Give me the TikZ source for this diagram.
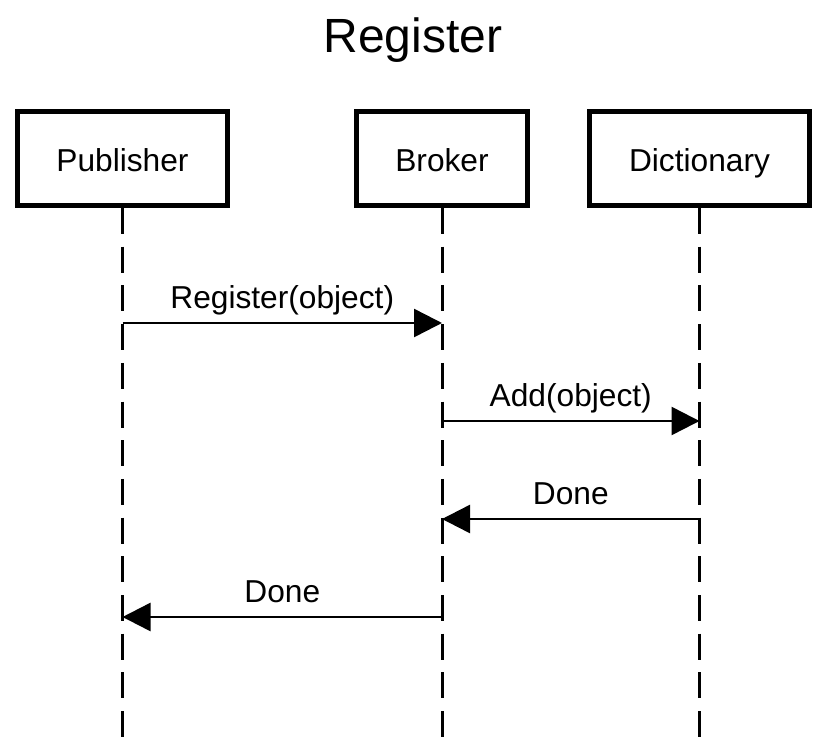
\documentclass[tikz,border=0pt]{standalone}
\usepackage{fontspec}
\setmainfont{Liberation Sans}
\usetikzlibrary{arrows.meta}
\begin{document}
\begin{tikzpicture}[x=1pt,y=-1pt,
  actor/.style={draw=black,line width=5pt,minimum height=94pt,inner sep=0pt,
    text height=25pt,text depth=0pt,
    font=\fontsize{31.7}{38}\selectfont},
  lifeline/.style={line width=3pt,dash pattern=on 26pt off 12.7pt},
  msg/.style={line width=2.5pt,-{Triangle[length=28pt,width=28pt]}},
  lbl/.style={anchor=base,yshift=15pt,font=\fontsize{31.7}{38}\selectfont,inner sep=0pt}]
\useasboundingbox (0,0) rectangle (826,741);
\node[font=\fontsize{48}{58}\selectfont,anchor=base,inner sep=0pt] (title) at (413,53) {Register};
\node[actor,minimum width=210pt] (pub) at (122.5,158.5) {Publisher};
\node[actor,minimum width=171pt] (brk) at (442,158.5) {Broker};
\node[actor,minimum width=220pt] (dic) at (699.5,158.5) {Dictionary};
\coordinate (pubend) at (122.5,741);
\coordinate (brkend) at (442,741);
\coordinate (dicend) at (699.5,741);
\draw[lifeline] (pub.south) -- (pubend);
\draw[lifeline] (brk.south) -- (brkend);
\draw[lifeline] (dic.south) -- (dicend);
\coordinate (p1) at (122.5,323); \coordinate (b1) at (442,323);
\coordinate (b2) at (442,421); \coordinate (d2) at (699.5,421);
\coordinate (d3) at (699.5,519); \coordinate (b3) at (442,519);
\coordinate (b4) at (442,617); \coordinate (p4) at (122.5,617);
\draw[msg] (p1) -- node[lbl] {Register(object)} (b1);
\draw[msg] (b2) -- node[lbl] {Add(object)} (d2);
\draw[msg] (d3) -- node[lbl] {Done} (b3);
\draw[msg] (b4) -- node[lbl] {Done} (p4);
\end{tikzpicture}
\end{document}
